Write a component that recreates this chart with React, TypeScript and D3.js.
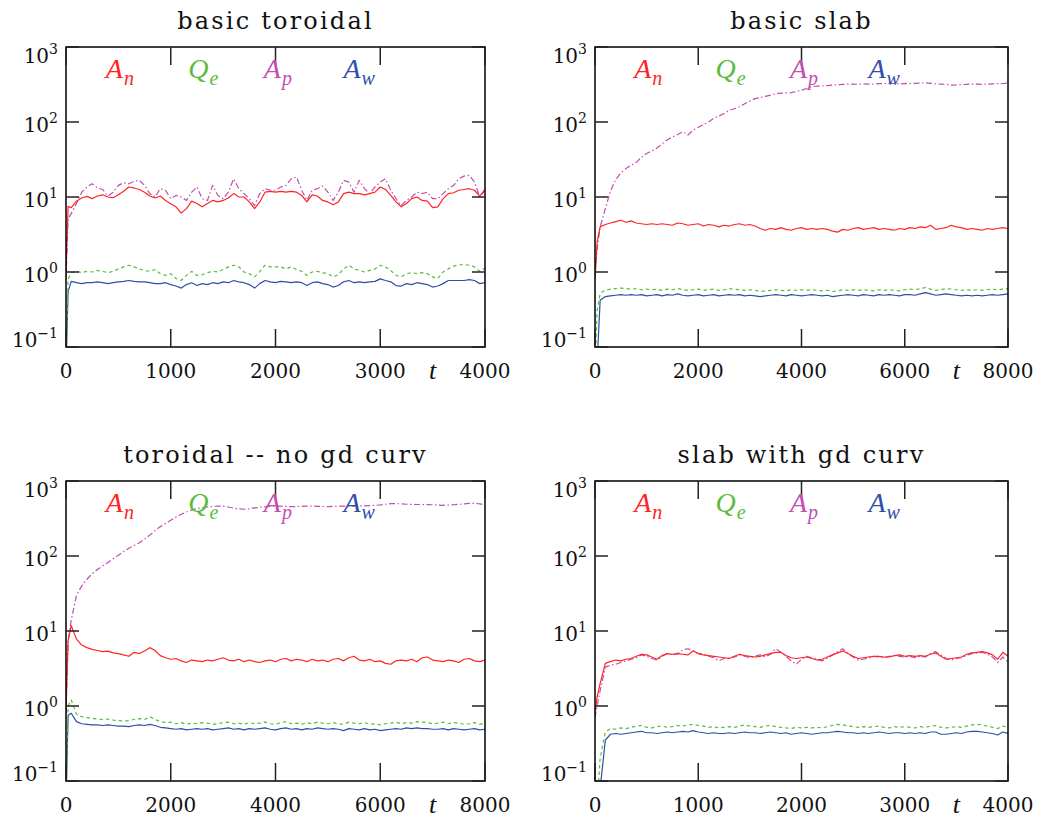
import React from 'react';
import * as d3 from 'd3';

// time grids
const T4 = [0, 20, ...d3.range(50, 4001, 50)];
const T8 = [0, 40, ...d3.range(100, 8001, 100)];

const yTickValues = [0.1, 1, 10, 100, 1000];
const yTickExp = ['\u22121', '0', '1', '2', '3'];
const xTicks4 = [0, 1000, 2000, 3000, 4000];
const xTicks8 = [0, 2000, 4000, 6000, 8000];

// ---- panel 1: basic toroidal (t 0..4000)
const p1An = [1.0, 7.5, 7.2,
  8.8, 9.7, 10.2, 9.5, 10.3, 10.7, 10.0, 9.8, 10.7,
  11.9, 13.6, 13.2, 12.6, 11.6, 10.3, 9.7, 10.3, 9.0, 8.15,
  7.4, 6.1, 7.0, 8.8, 8.2, 7.4, 8.2, 9.0, 8.6, 9.0,
  9.7, 11.1, 10.0, 10.0, 8.6, 7.0, 8.6, 11.6, 11.9, 11.6,
  11.9, 11.6, 11.9, 11.6, 10.5, 8.6, 10.7, 10.3, 9.0, 8.6,
  7.9, 8.6, 11.1, 11.6, 11.1, 11.1, 10.7, 11.1, 11.6, 13.6,
  12.6, 10.5, 8.6, 7.4, 8.2, 9.5, 10.0, 9.0, 8.8, 7.2,
  7.4, 9.5, 11.1, 11.4, 12.3, 12.6, 12.9, 12.3, 10.3, 12.6];
const p1Ap = [0.8, 5.1, 6.0,
  8.2, 11.6, 13.6, 15.0, 13.2, 12.6, 10.3, 11.6, 14.3,
  15.5, 15.0, 16.2, 16.7, 14.3, 11.1, 10.0, 12.9, 12.3, 9.5,
  10.5, 10.0, 9.0, 11.6, 13.6, 9.5, 9.0, 14.3, 10.5, 9.5,
  11.6, 17.5, 12.9, 11.1, 9.5, 7.7, 11.1, 12.9, 12.3, 12.3,
  13.6, 14.3, 17.5, 18.5, 12.3, 9.0, 12.3, 12.9, 14.0, 11.6,
  9.0, 11.6, 16.7, 15.8, 11.6, 16.7, 12.9, 11.1, 13.6, 15.8,
  17.5, 12.3, 9.5, 7.7, 9.0, 10.0, 11.6, 11.1, 11.6, 9.5,
  9.5, 11.1, 12.9, 14.3, 17.5, 19.0, 19.4, 15.8, 10.0, 12.3];
const p1Qe = [0.05, 0.8, 0.98,
  1.02, 0.98, 1.02, 1.0, 1.05, 1.02, 0.98, 1.02, 1.1,
  1.17, 1.23, 1.17, 1.1, 1.05, 1.02, 1.08, 0.95, 0.9, 0.95,
  0.82, 0.77, 0.9, 1.02, 0.9, 0.92, 0.98, 1.02, 1.0, 1.08,
  1.17, 1.23, 1.17, 1.0, 0.95, 0.86, 1.02, 1.23, 1.17, 1.17,
  1.17, 1.1, 1.17, 1.08, 1.02, 0.9, 1.0, 1.02, 0.98, 0.95,
  0.86, 0.92, 1.1, 1.23, 1.1, 1.05, 1.0, 1.05, 1.1, 1.23,
  1.17, 1.05, 0.9, 0.86, 0.95, 0.98, 0.95, 0.98, 0.95, 0.86,
  0.82, 1.0, 1.1, 1.2, 1.25, 1.25, 1.23, 1.17, 1.02, 1.13];
const p1Aw = [0.05, 0.55, 0.75,
  0.72, 0.70, 0.72, 0.72, 0.74, 0.72, 0.70, 0.72, 0.74,
  0.75, 0.77, 0.75, 0.74, 0.74, 0.72, 0.70, 0.70, 0.72, 0.68,
  0.65, 0.61, 0.68, 0.72, 0.66, 0.70, 0.68, 0.72, 0.70, 0.74,
  0.72, 0.77, 0.74, 0.72, 0.68, 0.61, 0.70, 0.77, 0.74, 0.72,
  0.75, 0.74, 0.72, 0.74, 0.72, 0.66, 0.72, 0.74, 0.70, 0.68,
  0.63, 0.66, 0.74, 0.77, 0.72, 0.74, 0.72, 0.74, 0.75, 0.81,
  0.77, 0.74, 0.66, 0.65, 0.70, 0.68, 0.72, 0.70, 0.68, 0.63,
  0.65, 0.70, 0.77, 0.77, 0.77, 0.77, 0.79, 0.77, 0.70, 0.72];

// ---- panel 2: basic slab (t 0..8000)
const p2An = [0.8, 2.5,
  4.0, 4.3, 4.5, 4.7, 4.9, 4.6, 4.8, 4.5, 4.4, 4.3,
  4.4, 4.3, 4.4, 4.3, 4.2, 4.5, 4.4, 4.2, 4.3, 4.4,
  4.1, 4.3, 4.2, 4.0, 4.2, 4.1, 4.3, 4.4, 4.2, 4.3,
  4.1, 3.8, 3.6, 3.8, 3.7, 3.9, 3.7, 3.6, 3.8, 3.9,
  3.7, 3.8, 3.7, 3.8, 3.7, 3.5, 3.4, 3.7, 3.6, 3.8,
  3.9, 3.7, 3.8, 3.9, 3.7, 3.8, 3.7, 3.6, 3.8, 3.7,
  3.9, 3.8, 4.0, 3.9, 4.2, 3.7, 3.8, 3.9, 4.2, 4.0,
  3.9, 3.7, 3.8, 3.7, 3.6, 3.8, 3.7, 3.8, 3.9, 3.8];
const p2Ap = [0.9, 2.0,
  4.0, 7.0, 12, 17, 21, 24, 26.5, 29, 34, 38,
  41, 45, 51, 58, 63, 68, 74, 67, 78, 85,
  92, 100, 112, 120, 130, 143, 150, 160, 175, 190,
  205, 212, 220, 228, 238, 242, 244, 246, 255, 265,
  280, 296, 300, 302, 306, 310, 314, 317, 320, 321,
  318, 322, 320, 321, 325, 326, 328, 326, 322, 324,
  326, 328, 330, 332, 328, 322, 320, 318, 311, 312,
  315, 318, 320, 320, 318, 320, 322, 325, 326, 330];
const p2Qe = [0.05, 0.30,
  0.52, 0.57, 0.59, 0.60, 0.61, 0.60, 0.59, 0.60, 0.58, 0.59,
  0.58, 0.59, 0.57, 0.59, 0.58, 0.60, 0.58, 0.57, 0.58, 0.59,
  0.57, 0.58, 0.59, 0.57, 0.58, 0.60, 0.59, 0.58, 0.57, 0.58,
  0.57, 0.55, 0.56, 0.57, 0.58, 0.57, 0.56, 0.58, 0.57, 0.58,
  0.57, 0.58, 0.57, 0.56, 0.57, 0.55, 0.56, 0.58, 0.57, 0.58,
  0.57, 0.58, 0.57, 0.56, 0.58, 0.57, 0.58, 0.57, 0.56, 0.58,
  0.59, 0.58, 0.60, 0.62, 0.59, 0.57, 0.58, 0.60, 0.59, 0.58,
  0.57, 0.58, 0.57, 0.58, 0.57, 0.58, 0.59, 0.58, 0.59, 0.60];
const p2Aw = [0.03, 0.06,
  0.42, 0.47, 0.48, 0.49, 0.50, 0.49, 0.50, 0.49, 0.50, 0.48,
  0.49, 0.50, 0.48, 0.50, 0.49, 0.51, 0.49, 0.48, 0.49, 0.50,
  0.48, 0.49, 0.50, 0.48, 0.49, 0.50, 0.49, 0.50, 0.48, 0.49,
  0.48, 0.47, 0.48, 0.49, 0.50, 0.49, 0.48, 0.50, 0.49, 0.48,
  0.49, 0.50, 0.49, 0.48, 0.49, 0.47, 0.48, 0.49, 0.50, 0.49,
  0.48, 0.50, 0.49, 0.48, 0.50, 0.49, 0.50, 0.49, 0.48, 0.50,
  0.50, 0.49, 0.51, 0.53, 0.51, 0.49, 0.50, 0.51, 0.50, 0.49,
  0.48, 0.49, 0.48, 0.49, 0.48, 0.49, 0.50, 0.49, 0.50, 0.51];

// ---- panel 3: toroidal -- no gd curv (t 0..8000)
const p3An = [0.9, 7.5,
  11.8, 7.8, 6.5, 6.0, 5.7, 5.5, 5.3, 5.4, 5.1, 5.0,
  4.8, 4.6, 5.2, 5.0, 5.4, 6.0, 5.5, 4.7, 4.4, 4.2,
  4.3, 4.0, 3.8, 4.1, 4.0, 3.9, 4.1, 4.0, 4.2, 4.4,
  4.1, 4.0, 4.2, 3.9, 4.1, 3.9, 3.8, 4.0, 4.1, 3.9,
  4.2, 4.3, 4.0, 4.2, 4.1, 3.9, 4.2, 4.0, 4.1, 3.9,
  4.2, 4.3, 4.0, 4.4, 4.6, 4.1, 4.0, 4.2, 3.9, 4.0,
  3.7, 3.6, 4.0, 4.1, 4.0, 4.2, 3.9, 4.4, 4.5, 4.1,
  4.0, 3.9, 4.1, 4.0, 3.8, 4.2, 4.3, 4.0, 3.9, 4.1];
const p3Ap = [0.8, 7,
  14, 30, 40, 49, 58, 66, 74, 82, 92, 102,
  115, 127, 138, 150, 168, 190, 218, 245, 272, 300,
  330, 360, 386, 410, 428, 440, 450, 458, 464, 462,
  450, 435, 425, 420, 425, 438, 446, 452, 458, 464,
  462, 458, 455, 456, 460, 462, 464, 460, 458, 455,
  458, 462, 464, 462, 463, 464, 466, 470, 473, 480,
  490, 498, 500, 495, 490, 488, 486, 486, 484, 482,
  478, 474, 478, 482, 488, 495, 502, 505, 495, 482];
const p3Qe = [0.05, 1.0,
  1.2, 0.78, 0.72, 0.70, 0.68, 0.67, 0.66, 0.67, 0.65, 0.64,
  0.63, 0.64, 0.66, 0.68, 0.66, 0.72, 0.66, 0.62, 0.60, 0.61,
  0.58, 0.60, 0.57, 0.59, 0.58, 0.60, 0.59, 0.57, 0.58, 0.60,
  0.61, 0.58, 0.59, 0.57, 0.60, 0.58, 0.59, 0.61, 0.58, 0.57,
  0.60, 0.62, 0.58, 0.59, 0.57, 0.60, 0.58, 0.61, 0.59, 0.58,
  0.60, 0.58, 0.57, 0.61, 0.59, 0.58, 0.60, 0.57, 0.58, 0.56,
  0.58, 0.59, 0.61, 0.58, 0.60, 0.59, 0.62, 0.61, 0.60, 0.58,
  0.59, 0.61, 0.58, 0.60, 0.59, 0.57, 0.58, 0.60, 0.57, 0.59];
const p3Aw = [0.05, 0.75,
  0.80, 0.62, 0.58, 0.57, 0.56, 0.56, 0.55, 0.56, 0.55, 0.54,
  0.54, 0.53, 0.55, 0.56, 0.55, 0.57, 0.55, 0.52, 0.51, 0.50,
  0.49, 0.50, 0.48, 0.49, 0.50, 0.49, 0.50, 0.48, 0.49, 0.50,
  0.51, 0.49, 0.50, 0.48, 0.50, 0.49, 0.50, 0.51, 0.49, 0.48,
  0.50, 0.51, 0.49, 0.50, 0.48, 0.50, 0.49, 0.51, 0.50, 0.49,
  0.50, 0.49, 0.47, 0.50, 0.49, 0.48, 0.50, 0.48, 0.49, 0.47,
  0.48, 0.49, 0.50, 0.49, 0.51, 0.50, 0.51, 0.50, 0.50, 0.49,
  0.49, 0.50, 0.48, 0.50, 0.49, 0.48, 0.49, 0.50, 0.48, 0.49];

// ---- panel 4: slab with gd curv (t 0..4000)
const p4An = [0.85, 1.3, 2.0,
  3.7, 3.9, 4.1, 4.0, 4.2, 4.3, 4.6, 4.9, 4.8,
  4.5, 4.2, 4.7, 5.0, 4.9, 5.0, 4.9, 4.8, 5.4, 5.0,
  4.8, 4.7, 4.6, 4.5, 4.4, 4.3, 4.6, 4.9, 4.7, 4.6,
  4.5, 4.6, 4.8, 5.0, 5.2, 5.2, 4.7, 4.4, 4.3, 4.4,
  4.5, 4.3, 4.1, 4.2, 4.5, 4.8, 5.1, 5.4, 5.0, 4.6,
  4.3, 4.4, 4.5, 4.6, 4.6, 4.5, 4.5, 4.7, 4.8, 4.6,
  4.7, 4.6, 4.7, 4.6, 4.9, 5.1, 4.6, 4.2, 4.3, 4.4,
  4.5, 4.9, 5.1, 5.2, 5.3, 5.1, 4.8, 4.2, 5.2, 4.6];
const p4Ap = [0.7, 1.0, 1.6,
  3.3, 3.5, 3.6, 3.8, 4.0, 4.2, 4.4, 4.8, 4.6,
  4.3, 4.1, 4.6, 5.0, 4.8, 5.0, 5.6, 5.8, 5.5, 5.0,
  4.9, 4.6, 4.4, 4.0, 4.3, 4.4, 4.5, 4.8, 4.6, 4.4,
  4.6, 4.8, 4.5, 4.9, 5.8, 5.2, 4.6, 4.0, 3.6, 4.2,
  4.6, 4.4, 4.2, 4.0, 4.3, 4.8, 5.3, 5.8, 5.0, 4.5,
  4.1, 4.2, 4.4, 4.6, 4.5, 4.4, 4.6, 4.7, 4.6, 4.5,
  4.6, 4.4, 4.6, 4.5, 5.0, 5.3, 4.8, 4.3, 4.1, 4.3,
  4.4, 4.7, 5.0, 5.1, 5.2, 4.9, 4.5, 3.8, 4.5, 3.8];
const p4Qe = [0.03, 0.05, 0.2,
  0.45, 0.50, 0.49, 0.51, 0.50, 0.52, 0.54, 0.55, 0.52,
  0.51, 0.53, 0.54, 0.52, 0.53, 0.55, 0.54, 0.56, 0.57, 0.55,
  0.54, 0.52, 0.53, 0.51, 0.52, 0.53, 0.52, 0.54, 0.56, 0.54,
  0.53, 0.52, 0.54, 0.55, 0.53, 0.52, 0.51, 0.50, 0.52, 0.51,
  0.52, 0.51, 0.52, 0.51, 0.53, 0.55, 0.57, 0.56, 0.54, 0.53,
  0.52, 0.53, 0.52, 0.53, 0.54, 0.52, 0.51, 0.53, 0.52, 0.53,
  0.52, 0.51, 0.53, 0.52, 0.54, 0.55, 0.52, 0.51, 0.52, 0.53,
  0.52, 0.54, 0.56, 0.57, 0.56, 0.54, 0.52, 0.50, 0.54, 0.52];
const p4Aw = [0.03, 0.04, 0.08,
  0.35, 0.42, 0.43, 0.42, 0.43, 0.44, 0.45, 0.46, 0.44,
  0.44, 0.43, 0.44, 0.45, 0.44, 0.45, 0.46, 0.45, 0.47, 0.45,
  0.44, 0.43, 0.44, 0.43, 0.43, 0.44, 0.43, 0.44, 0.45, 0.44,
  0.44, 0.43, 0.44, 0.45, 0.44, 0.43, 0.44, 0.42, 0.43, 0.44,
  0.43, 0.42, 0.43, 0.44, 0.44, 0.45, 0.46, 0.45, 0.44, 0.44,
  0.43, 0.44, 0.43, 0.44, 0.45, 0.44, 0.43, 0.44, 0.44, 0.43,
  0.44, 0.43, 0.44, 0.43, 0.45, 0.45, 0.42, 0.42, 0.43, 0.44,
  0.43, 0.45, 0.46, 0.46, 0.45, 0.44, 0.43, 0.41, 0.45, 0.43];

const seriesStyle = [
  { key: 'An', base: 'A', sub: 'n', color: '#ff2424', dash: null, pos: 0.095 },
  { key: 'Qe', base: 'Q', sub: 'e', color: '#5dbb3c', dash: '3.5,3', pos: 0.292 },
  { key: 'Ap', base: 'A', sub: 'p', color: '#c34db0', dash: '6,2.5,1.5,2.5', pos: 0.472 },
  { key: 'Aw', base: 'A', sub: 'w', color: '#2f4fa6', dash: null, pos: 0.662 },
];

const panels = [
  { id: 'p1', title: 'basic toroidal', left: 66, right: 485, top: 47, bottom: 347, t: T4, xTicks: xTicks4,
    data: { An: p1An, Qe: p1Qe, Ap: p1Ap, Aw: p1Aw } },
  { id: 'p2', title: 'basic slab', left: 595, right: 1008, top: 47, bottom: 347, t: T8, xTicks: xTicks8,
    data: { An: p2An, Qe: p2Qe, Ap: p2Ap, Aw: p2Aw } },
  { id: 'p3', title: 'toroidal -- no gd curv', left: 66, right: 485, top: 481, bottom: 781, t: T8, xTicks: xTicks8,
    data: { An: p3An, Qe: p3Qe, Ap: p3Ap, Aw: p3Aw } },
  { id: 'p4', title: 'slab with gd curv', left: 595, right: 1008, top: 481, bottom: 781, t: T4, xTicks: xTicks4,
    data: { An: p4An, Qe: p4Qe, Ap: p4Ap, Aw: p4Aw } },
];

const FONT = '"DejaVu Serif", serif';
const IFONT = '"Liberation Serif", "DejaVu Serif", serif';

function Panel({ p }: { p: any }) {
  const x = d3.scaleLinear().domain([0, p.t[p.t.length - 1]]).range([p.left, p.right]);
  const y = d3.scaleLog().domain([0.1, 1000]).range([p.bottom, p.top]);
  const w = p.right - p.left;
  const order = ['Aw', 'Qe', 'Ap', 'An'];
  return (
    <g>
      <defs>
        <clipPath id={'clip-' + p.id}>
          <rect x={p.left} y={p.top} width={w} height={p.bottom - p.top} />
        </clipPath>
      </defs>
      <text x={(p.left + p.right) / 2} y={p.top - 18} textAnchor="middle" fontFamily={FONT}
        fontSize={24} letterSpacing={2.2} fill="#111" style={{ whiteSpace: 'pre' }}>{p.title}</text>
      <g clipPath={`url(#clip-${p.id})`}>
        {order.map((k) => {
          const s = seriesStyle.find((q) => q.key === k)!;
          const vals: number[] = p.data[k];
          const n = Math.min(vals.length, p.t.length);
          const pts = d3.range(n).map((i) => [p.t[i], vals[i]] as [number, number]);
          const line = d3.line<[number, number]>().x((d) => x(d[0])).y((d) => y(d[1]));
          return (
            <path key={k} d={line(pts) || ''} fill="none" stroke={s.color} strokeWidth={1.2}
              strokeDasharray={s.dash || undefined} strokeLinejoin="round" />
          );
        })}
      </g>
      <rect x={p.left} y={p.top} width={w} height={p.bottom - p.top} fill="none" stroke="#000" strokeWidth={1.5} />
      {p.xTicks.map((tv: number, i: number) => (
        <g key={'xt' + i}>
          <line x1={x(tv)} x2={x(tv)} y1={p.bottom} y2={p.bottom - 18} stroke="#222" strokeWidth={1.5} />
          <line x1={x(tv)} x2={x(tv)} y1={p.top} y2={p.top + 18} stroke="#222" strokeWidth={1.5} />
          <text x={x(tv)} y={p.bottom + 31} textAnchor="middle" fontFamily={FONT} fontSize={20} fill="#111">{tv}</text>
        </g>
      ))}
      {yTickValues.map((v, i) => {
        const yy = y(v);
        const base = Math.min(Math.max(yy + 10, p.top + 16), p.bottom);
        return (
          <g key={'yt' + i}>
            <line x1={p.left} x2={p.left + 13} y1={yy} y2={yy} stroke="#222" strokeWidth={1.5} />
            <line x1={p.right} x2={p.right - 13} y1={yy} y2={yy} stroke="#222" strokeWidth={1.5} />
            <text x={p.left - 8} y={base} textAnchor="end" fontFamily={FONT} fontSize={20} fill="#111">
              10<tspan dy={-9} fontSize={14}>{yTickExp[i]}</tspan>
            </text>
          </g>
        );
      })}
      <text x={p.left + 0.875 * w} y={p.bottom + 32} textAnchor="middle" fontFamily={IFONT}
        fontStyle="italic" fontSize={26} fill="#111">t</text>
      {seriesStyle.map((s) => (
        <text key={'lg' + s.key} x={p.left + s.pos * w} y={p.top + 31} fontFamily={IFONT} fontStyle="italic"
          fontSize={28} fill={s.color}>
          {s.base}<tspan dy={7} dx={1} fontSize={20}>{s.sub}</tspan>
        </text>
      ))}
    </g>
  );
}

export default function App() {
  return (
    <svg width={1050} height={820} style={{ position: 'absolute', left: 0, top: 0, background: '#fff' }}>
      <rect x={0} y={0} width={1050} height={820} fill="#fff" />
      {panels.map((p) => <Panel key={p.id} p={p} />)}
    </svg>
  );
}
